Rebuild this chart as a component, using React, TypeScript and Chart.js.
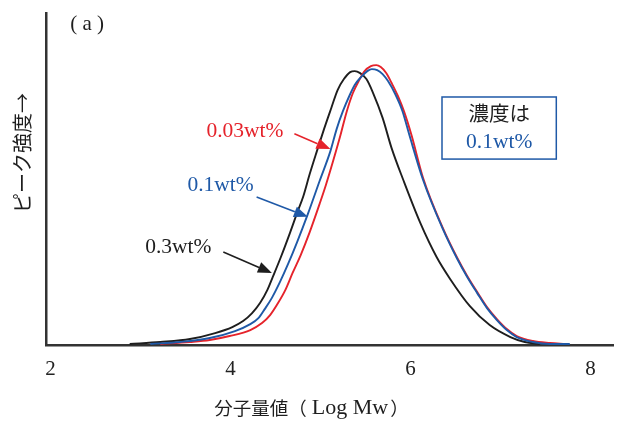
import { useEffect, useRef } from "react";
import { Chart, registerables } from "chart.js";

Chart.register(...registerables);

// Log Mw (x) and peak intensity (y, 0-100)
const BLACK_X = [2.88, 3.22, 3.55, 3.83, 4.02, 4.14, 4.24, 4.33, 4.41, 4.47, 4.56, 4.66, 4.74, 4.81, 4.88, 4.96, 5.04, 5.12, 5.19, 5.26, 5.33, 5.38, 5.44, 5.51, 5.58, 5.69, 5.79, 5.92, 6.11, 6.29, 6.44, 6.66, 6.88, 7.11, 7.27, 7.44];
const BLACK_Y = [0.3, 0.9, 1.8, 3.6, 5.4, 7.2, 9.6, 12.7, 16.6, 20.5, 26.5, 33.7, 39.8, 44.9, 51.5, 58.4, 65.1, 71.4, 76.8, 80.1, 82.2, 82.5, 81.9, 80.1, 76.2, 68.4, 59.3, 49.7, 36.7, 26.5, 19.9, 11.7, 6.0, 2.4, 0.9, 0.3];

const BLUE_X = [3.11, 3.44, 3.77, 4.05, 4.22, 4.31, 4.38, 4.46, 4.55, 4.64, 4.74, 4.86, 4.99, 5.11, 5.18, 5.25, 5.32, 5.38, 5.45, 5.52, 5.57, 5.63, 5.69, 5.75, 5.83, 5.91, 5.99, 6.14, 6.36, 6.52, 6.63, 6.74, 6.85, 6.96, 7.07, 7.18, 7.36, 7.55, 7.77];
const BLUE_Y = [0.3, 0.9, 2.1, 4.2, 6.3, 8.1, 10.8, 14.2, 19.0, 24.4, 31.0, 39.5, 49.4, 58.4, 65.1, 70.5, 75.0, 78.3, 80.7, 82.5, 83.1, 82.8, 81.6, 79.5, 75.6, 70.5, 63.0, 49.7, 34.9, 25.9, 20.5, 15.7, 11.1, 7.5, 4.5, 2.4, 0.9, 0.3, 0.3];

const RED_X = [3.22, 3.55, 3.77, 3.99, 4.22, 4.35, 4.44, 4.53, 4.61, 4.69, 4.78, 4.88, 4.99, 5.06, 5.14, 5.22, 5.29, 5.36, 5.43, 5.49, 5.56, 5.62, 5.67, 5.73, 5.79, 5.86, 5.93, 6.01, 6.14, 6.36, 6.52, 6.63, 6.74, 6.85, 6.96, 7.07, 7.18, 7.36, 7.55, 7.72];
const RED_Y = [0.3, 0.9, 1.5, 2.7, 4.5, 6.6, 9.0, 12.7, 16.6, 21.7, 27.1, 34.0, 42.5, 48.2, 55.4, 63.0, 70.2, 75.9, 79.8, 82.5, 84.0, 84.3, 83.7, 81.9, 78.9, 75.0, 70.2, 63.3, 50.3, 35.2, 26.2, 20.8, 16.0, 11.4, 7.8, 4.8, 2.7, 1.2, 0.6, 0.3];

const X_TICKS = [2, 4, 6, 8];
const SERIES_LABELS = ["0.03wt%", "0.1wt%", "0.3wt%"];

const RED = "#e5232b";
const BLUE = "#1f59a7";
const BLACK = "#1e1e1e";
const AXIS = "#333333";

const SERIF = '"Liberation Serif", "Noto Sans CJK JP", serif';
const SANS_JP = '"Noto Sans CJK JP", sans-serif';

export default function App() {
  const ref = useRef<HTMLCanvasElement | null>(null);

  useEffect(() => {
    if (!ref.current) return;
    const pts = (xs: number[], ys: number[]) => xs.map((x, i) => ({ x, y: ys[i] }));

    const annot = {
      id: "annot",
      afterDraw(chart: any) {
        const ctx = chart.ctx as CanvasRenderingContext2D;
        const xs = chart.scales.x;
        const ys = chart.scales.y;
        const X = (v: number) => xs.getPixelForValue(v);
        const Y = (v: number) => ys.getPixelForValue(v);
        const area = chart.chartArea;
        ctx.save();

        const arrow = (x1: number, y1: number, x2: number, y2: number, color: string) => {
          const ax = X(x1), ay = Y(y1), bx = X(x2), by = Y(y2);
          const ang = Math.atan2(by - ay, bx - ax);
          const hl = 14, hw = 5.5;
          const baseX = bx - hl * Math.cos(ang), baseY = by - hl * Math.sin(ang);
          ctx.strokeStyle = color;
          ctx.lineWidth = 1.6;
          ctx.beginPath();
          ctx.moveTo(ax, ay);
          ctx.lineTo(baseX, baseY);
          ctx.stroke();
          ctx.fillStyle = color;
          ctx.beginPath();
          ctx.moveTo(bx, by);
          ctx.lineTo(baseX + hw * Math.sin(ang), baseY - hw * Math.cos(ang));
          ctx.lineTo(baseX - hw * Math.sin(ang), baseY + hw * Math.cos(ang));
          ctx.closePath();
          ctx.fill();
        };

        ctx.textAlign = "center";
        ctx.textBaseline = "middle";
        ctx.font = `21.5px ${SERIF}`;
        ctx.fillStyle = RED;
        ctx.fillText(SERIES_LABELS[0], X(4.16), Y(64.2));
        arrow(4.71, 63.6, 5.11, 59.0, RED);
        ctx.fillStyle = BLUE;
        ctx.fillText(SERIES_LABELS[1], X(3.89), Y(48.2));
        arrow(4.29, 44.6, 4.86, 38.6, BLUE);
        ctx.fillStyle = BLACK;
        ctx.fillText(SERIES_LABELS[2], X(3.42), Y(29.5));
        arrow(3.92, 28.0, 4.46, 21.7, BLACK);

        // note box
        const bx1 = X(6.35), bx2 = X(7.62), by1 = Y(74.7), by2 = Y(56.0);
        ctx.strokeStyle = BLUE;
        ctx.lineWidth = 1.5;
        ctx.strokeRect(bx1, by1, bx2 - bx1, by2 - by1);
        ctx.fillStyle = BLACK;
        ctx.font = `20.5px ${SERIF}`;
        ctx.fillText("濃度は", (bx1 + bx2) / 2, Y(69.0));
        ctx.fillStyle = BLUE;
        ctx.font = `21.5px ${SERIF}`;
        ctx.fillText("0.1wt%", (bx1 + bx2) / 2, Y(61.0));

        // panel label
        ctx.fillStyle = BLACK;
        ctx.textAlign = "left";
        ctx.font = `21px ${SERIF}`;
        ctx.fillText("( a )", X(2.22), Y(96.4));

        // x-axis title, drawn piecewise (CJK + Latin)
        const parts = [
          { t: "分子量値（", f: `18.5px ${SANS_JP}`, gap: 5 },
          { t: "Log Mw", f: `22px ${SERIF}`, gap: 2 },
          { t: "）", f: `18.5px ${SANS_JP}`, gap: 0 },
        ];
        let total = 0;
        const widths = parts.map((p) => {
          ctx.font = p.f;
          const w = ctx.measureText(p.t).width;
          total += w + p.gap;
          return w;
        });
        let cx = X(4.9) - total / 2;
        const ty = area.bottom + 63;
        parts.forEach((p, i) => {
          ctx.font = p.f;
          ctx.fillText(p.t, cx, ty);
          cx += widths[i] + p.gap;
        });

        // y-axis title
        ctx.textAlign = "center";
        ctx.translate(area.left - 24, Y(57.8));
        ctx.rotate(-Math.PI / 2);
        ctx.font = `20px ${SANS_JP}`;
        ctx.fillText("ピーク強度→", 0, 0);
        ctx.restore();
      },
    };

    const ds = (data: any, color: string) => ({
      data,
      borderColor: color,
      borderWidth: 1.9,
      pointRadius: 0,
      fill: false,
      cubicInterpolationMode: "monotone" as const,
    });

    const chart = new Chart(ref.current, {
      type: "line",
      data: {
        datasets: [
          ds(pts(BLUE_X, BLUE_Y), BLUE),
          ds(pts(RED_X, RED_Y), RED),
          ds(pts(BLACK_X, BLACK_Y), BLACK),
        ],
      },
      options: {
        animation: false,
        responsive: false,
        layout: { padding: { top: 13, right: 4, left: 0, bottom: 0 } },
        plugins: { legend: { display: false }, tooltip: { enabled: false } },
        scales: {
          x: {
            type: "linear",
            min: 1.95,
            max: 8.25,
            afterBuildTicks: (s: any) => {
              s.ticks = X_TICKS.map((v) => ({ value: v }));
            },
            afterFit: (s: any) => {
              s.height = 76;
            },
            grid: { display: false, drawTicks: false },
            border: { display: true, color: AXIS, width: 2.5 },
            ticks: {
              font: { family: SERIF, size: 21 },
              color: "#222",
              padding: 12,
              callback: (v: any) => String(v),
            },
          },
          y: {
            min: 0,
            max: 100,
            afterFit: (s: any) => {
              s.width = 46;
            },
            grid: { display: false, drawTicks: false },
            border: { display: true, color: AXIS, width: 2.5 },
            ticks: { display: false },
          },
        },
      },
      plugins: [annot],
    });
    return () => chart.destroy();
  }, []);

  return (
    <div style={{ position: "absolute", left: 0, top: 0, width: 617, height: 421, background: "#fff" }}>
      <canvas ref={ref} width={617} height={421} style={{ display: "block" }} />
    </div>
  );
}
